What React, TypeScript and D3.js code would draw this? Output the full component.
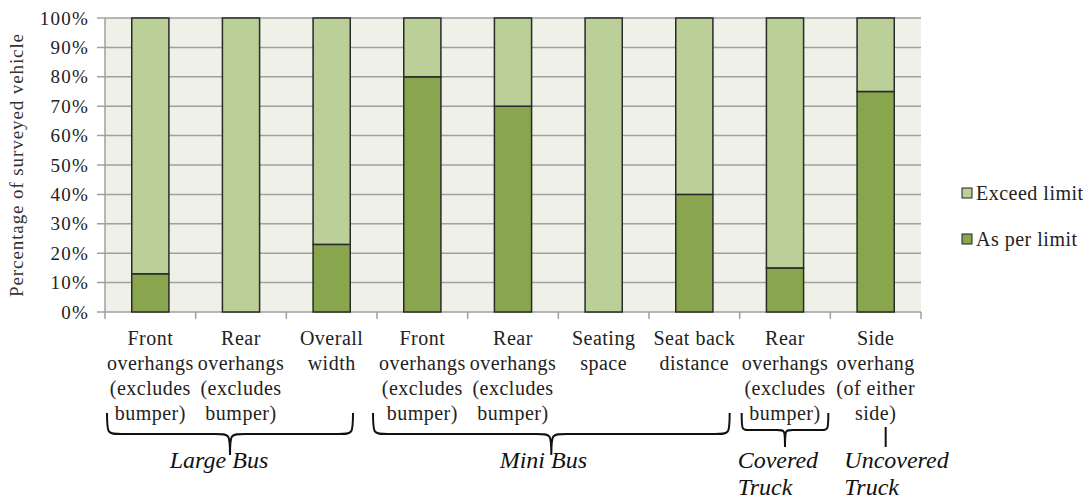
import React from 'react';
import * as d3 from 'd3';

// categories (multi-line labels)
const categories: string[][] = [
  ['Front', 'overhangs', '(excludes', 'bumper)'],
  ['Rear', 'overhangs', '(excludes', 'bumper)'],
  ['Overall', 'width'],
  ['Front', 'overhangs', '(excludes', 'bumper)'],
  ['Rear', 'overhangs', '(excludes', 'bumper)'],
  ['Seating', 'space'],
  ['Seat back', 'distance'],
  ['Rear', 'overhangs', '(excludes', 'bumper)'],
  ['Side', 'overhang', '(of either', 'side)'],
];
const asPerLimit = [13, 0, 23, 80, 70, 0, 40, 15, 75];
const exceedLimit = [87, 100, 77, 20, 30, 100, 60, 85, 25];
const yTicks = [0, 10, 20, 30, 40, 50, 60, 70, 80, 90, 100];

// vehicle groups: label lines, first and last category index
const groupNames = [['Large Bus'], ['Mini Bus'], ['Covered', 'Truck'], ['Uncovered', 'Truck']];
const groupStart = [0, 3, 7, 8];
const groupEnd = [2, 6, 7, 8];

const W = 1089;
const H = 496;
const margin = { top: 18, right: 168, bottom: 184, left: 105 };
const FONT = "'Liberation Serif', Tinos, monospace";
const GRID = '#A0A0A0';

const innerW = W - margin.left - margin.right;
const innerH = H - margin.top - margin.bottom;

const x = d3
  .scaleBand()
  .domain(categories.map((d, i) => String(i)))
  .range([0, innerW])
  .paddingInner(0.59)
  .paddingOuter(0.295);
const step = x.step();
const y = d3.scaleLinear().domain([0, 100]).range([innerH, 0]);

const series = [
  { key: 'As per limit', values: asPerLimit, color: '#89A64E' },
  { key: 'Exceed limit', values: exceedLimit, color: '#BBCF98' },
];
const stacked = d3
  .stack<number>()
  .keys(series.map((s, k) => String(k)))
  .value((i, key) => series[+key].values[i])(d3.range(categories.length));

function Brace({ k }: { k: number }) {
  const startPad = [2, -4, 2, 0];
  const endPad = [24, 10, 2, 0];
  const labelShift = [-11, -8, -4, 14];
  const braceTop = innerH + 101;
  const x1 = groupStart[k] * step + startPad[k];
  const x2 = (groupEnd[k] + 1) * step - endPad[k];
  const xm = (x1 + x2) / 2;
  const names = groupNames[k];
  const multi = names.length > 1;
  let mark;
  if (groupStart[k] === 8) {
    mark = (
      <line x1={xm + 10} x2={xm + 10} y1={braceTop + 14} y2={braceTop + 34} stroke="#111" strokeWidth={2} />
    );
  } else {
    const single = groupStart[k] === groupEnd[k];
    const mid = braceTop + (single ? 17 : 21);
    const tipY = braceTop + (single ? 34 : 42);
    const r = single ? 8 : 15;
    const d = `M${x1},${braceTop} C${x1},${mid} ${x1},${mid} ${x1 + r},${mid}
      L${xm - r},${mid} C${xm},${mid} ${xm},${mid} ${xm},${tipY}
      C${xm},${mid} ${xm},${mid} ${xm + r},${mid}
      L${x2 - r},${mid} C${x2},${mid} ${x2},${mid} ${x2},${braceTop}`;
    mark = <path d={d} fill="none" stroke="#111" strokeWidth={2} />;
  }
  return (
    <g>
      {mark}
      <text
        fontFamily={FONT}
        fontStyle="italic"
        fontSize={24}
        fill="#111"
        textAnchor={multi ? 'start' : 'middle'}
      >
        {names.map((n, j) => (
          <tspan
            key={j}
            x={(multi ? x1 : xm) + labelShift[k]}
            y={braceTop + 55 + j * 27}
          >
            {n}
          </tspan>
        ))}
      </text>
    </g>
  );
}

export default function App() {
  return (
    <svg
      width={W}
      height={H}
      style={{ position: 'absolute', left: 0, top: 0, background: '#fff' }}
    >
      <g transform={`translate(${margin.left},${margin.top})`}>
        {/* plot background */}
        <rect width={innerW} height={innerH} fill="#EFF1E9" />

        {/* gridlines, y ticks and labels */}
        {yTicks.map((t) => (
          <g key={t}>
            <line x1={-8} x2={innerW} y1={y(t)} y2={y(t)} stroke={GRID} strokeWidth={1.5} />
            <text
              x={-16}
              y={y(t)}
              dy="0.35em"
              textAnchor="end"
              fontFamily={FONT}
              fontSize={19}
              letterSpacing={1.2}
              fill="#222"
            >
              {t}%
            </text>
          </g>
        ))}
        <line x1={0} x2={0} y1={0} y2={innerH} stroke={GRID} strokeWidth={1.5} />

        {/* x ticks at band boundaries */}
        {d3.range(categories.length + 1).map((i) => (
          <line key={i} x1={i * step} x2={i * step} y1={innerH} y2={innerH + 7} stroke={GRID} strokeWidth={1.5} />
        ))}

        {/* stacked bars */}
        {stacked.map((layer, k) =>
          layer.map((d, i) =>
            d[1] - d[0] > 0 ? (
              <rect
                key={`${k}-${i}`}
                x={x(String(i))}
                width={x.bandwidth()}
                y={y(d[1])}
                height={y(d[0]) - y(d[1])}
                fill={series[k].color}
                stroke="#2a2a2a"
                strokeWidth={1.5}
              />
            ) : null,
          ),
        )}

        {/* category labels */}
        {categories.map((lines, i) => (
          <text
            key={i}
            textAnchor="middle"
            fontFamily={FONT}
            fontSize={20}
            letterSpacing={0.5}
            fill="#222"
          >
            {lines.map((ln, j) => (
              <tspan key={j} x={x(String(i)) + x.bandwidth() / 2} y={innerH + 33 + j * 25}>
                {ln}
              </tspan>
            ))}
          </text>
        ))}

        {groupNames.map((n, k) => (
          <Brace key={k} k={k} />
        ))}
      </g>

      {/* y axis title */}
      <text
        transform={`translate(23,${margin.top + innerH / 2}) rotate(-90)`}
        textAnchor="middle"
        fontFamily={FONT}
        fontSize={19}
        letterSpacing={0.9}
        fill="#333"
      >
        Percentage of surveyed vehicle
      </text>

      {/* legend */}
      <g transform="translate(962,0)">
        {[series[1], series[0]].map((s, i) => (
          <g key={s.key} transform={`translate(0,${193 + i * 46})`}>
            <rect x={0} y={-5} width={10} height={10} fill={s.color} stroke="#222" strokeWidth={1} />
            <text x={14} y={7} fontFamily={FONT} fontSize={20} letterSpacing={0.5} fill="#222">
              {s.key}
            </text>
          </g>
        ))}
      </g>
    </svg>
  );
}
